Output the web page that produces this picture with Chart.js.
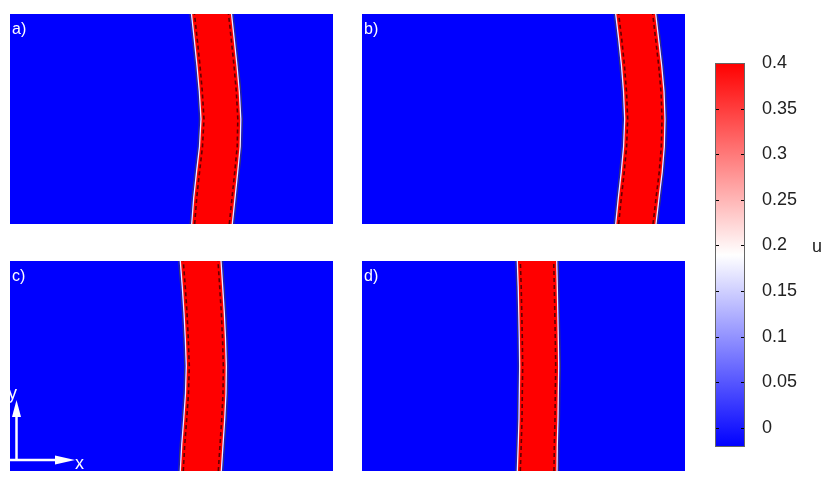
<!DOCTYPE html>
<html><head><meta charset="utf-8">
<script src="https://cdn.jsdelivr.net/npm/chart.js@4.4.1/dist/chart.umd.min.js"></script>
<style>
html,body{margin:0;padding:0;background:#fff;}
#wrap{position:relative;width:830px;height:489px;overflow:hidden;background:#fff;}
canvas{position:absolute;}
</style></head><body>
<div id="wrap">
<canvas id="pa" width="323" height="210" style="left:10px;top:14px"></canvas>
<canvas id="pb" width="323" height="210" style="left:362px;top:14px"></canvas>
<canvas id="pc" width="323" height="210" style="left:10px;top:261px"></canvas>
<canvas id="pd" width="323" height="210" style="left:362px;top:261px"></canvas>
<canvas id="cb" width="115" height="430" style="left:715px;top:40px"></canvas>
</div>
<script>
// ---- data ----
const panelLabels = ['a)', 'b)', 'c)', 'd)'];
const xRange = [0, 100];
const yRange = [0, 65];
const edgeY = [0, 8, 16, 24, 32.5, 41, 49, 57, 65];
const leftA  = [56.25, 56.87, 57.74, 58.67, 59.13, 58.61, 57.89, 57.06, 56.19];
const rightA = [68.82, 69.66, 70.49, 71.27, 71.46, 70.99, 70.28, 69.44, 68.58];
const leftB  = [78.54, 79.35, 80.25, 80.99, 81.33, 80.96, 80.34, 79.50, 78.54];
const rightB = [91.02, 91.95, 92.94, 93.59, 93.81, 93.50, 92.79, 91.86, 90.93];
const leftC  = [52.72, 53.16, 53.78, 54.33, 54.58, 54.27, 53.87, 53.34, 52.72];
const rightC = [65.42, 65.94, 66.47, 66.87, 66.97, 66.72, 66.35, 65.85, 65.33];
const leftD  = [48.08, 48.36, 48.61, 48.70, 48.82, 48.70, 48.54, 48.36, 48.08];
const rightD = [60.37, 60.46, 60.68, 60.77, 60.90, 60.77, 60.62, 60.46, 60.28];
const cbMin = -0.021, cbMax = 0.4;
const cbTickValues = [0, 0.05, 0.1, 0.15, 0.2, 0.25, 0.3, 0.35, 0.4];
const cbTickLabels = ['0', '0.05', '0.1', '0.15', '0.2', '0.25', '0.3', '0.35', '0.4'];
const cbTitle = 'u';
const axisArrowLabels = ['x', 'y'];

// ---- styles ----
const FONT = "'Liberation Sans', Arial, sans-serif";
Chart.defaults.font.family = FONT;
const BLUE = '#0000ff', RED = '#ff0000';

const panelPlugin = {
  id: 'panelDeco',
  beforeDraw(chart) {
    const a = chart.chartArea, c = chart.ctx;
    c.save(); c.fillStyle = BLUE; c.fillRect(a.left, a.top, a.right - a.left, a.bottom - a.top); c.restore();
  },
  afterDatasetsDraw(chart, args, opts) {
    const c = chart.ctx, a = chart.chartArea;
    c.save();
    c.beginPath(); c.rect(a.left, a.top, a.right - a.left, a.bottom - a.top); c.clip();
    chart.data.datasets.forEach((ds, i) => {
      if (!ds.edgeDir) return;
      const pts = chart.getDatasetMeta(i).data;
      const path = (dx) => { c.beginPath(); pts.forEach((p, k) => k ? c.lineTo(p.x + dx, p.y) : c.moveTo(p.x + dx, p.y)); c.stroke(); };
      c.setLineDash([]); c.strokeStyle = 'rgba(60,60,100,0.9)'; c.lineWidth = 1; path(ds.edgeDir * 1.6);
      c.strokeStyle = 'rgba(240,235,255,1)'; c.lineWidth = 1.3; path(0);
      c.setLineDash([4, 3]); c.strokeStyle = 'rgba(70,0,0,0.85)'; c.lineWidth = 1.6; path(-ds.edgeDir * 3);
    });
    c.restore();
    c.save();
    c.fillStyle = '#fff'; c.font = '16px ' + FONT; c.textBaseline = 'alphabetic';
    c.fillText(opts.label, a.left + 2, a.top + 20);
    if (opts.arrows) {
      const ox = a.left + 6.5, oy = a.bottom - 11;
      c.strokeStyle = '#fff'; c.fillStyle = '#fff'; c.lineWidth = 2.5;
      c.beginPath(); c.moveTo(a.left, oy); c.lineTo(a.left + 50, oy); c.stroke();
      c.beginPath(); c.moveTo(ox, oy + 1); c.lineTo(ox, a.bottom - 57); c.stroke();
      c.beginPath(); c.moveTo(a.left + 65, oy); c.lineTo(a.left + 45, oy - 4.5); c.lineTo(a.left + 45, oy + 4.5); c.closePath(); c.fill();
      c.beginPath(); c.moveTo(ox, a.bottom - 71); c.lineTo(ox - 4.5, a.bottom - 54); c.lineTo(ox + 4.5, a.bottom - 54); c.closePath(); c.fill();
      c.font = '18px ' + FONT;
      c.fillText(axisArrowLabels[0], a.left + 65, a.bottom - 2);
      c.fillText(axisArrowLabels[1], a.left - 2, a.bottom - 72);
    }
    c.restore();
  }
};

function makePanel(id, label, left, right, arrows) {
  const leftPts = left.map((x, i) => ({ x, y: edgeY[i] }));
  const rightPts = right.map((x, i) => ({ x, y: edgeY[i] }));
  const band = leftPts.concat(rightPts.slice().reverse());
  new Chart(document.getElementById(id), {
    type: 'line',
    data: {
      datasets: [
        { data: band, fill: 'shape', backgroundColor: RED, borderWidth: 0, borderColor: 'rgba(0,0,0,0)', pointRadius: 0, tension: 0 },
        { data: leftPts, fill: false, borderWidth: 0, borderColor: 'rgba(0,0,0,0)', pointRadius: 0, tension: 0, edgeDir: -1 },
        { data: rightPts, fill: false, borderWidth: 0, borderColor: 'rgba(0,0,0,0)', pointRadius: 0, tension: 0, edgeDir: 1 }
      ]
    },
    options: {
      responsive: false, maintainAspectRatio: false, animation: false,
      layout: { padding: 0 },
      plugins: { legend: { display: false }, tooltip: { enabled: false }, panelDeco: { label, arrows } },
      scales: {
        x: { type: 'linear', min: xRange[0], max: xRange[1], display: false },
        y: { type: 'linear', min: yRange[0], max: yRange[1], display: false }
      }
    },
    plugins: [panelPlugin]
  });
}

makePanel('pa', panelLabels[0], leftA, rightA, false);
makePanel('pb', panelLabels[1], leftB, rightB, false);
makePanel('pc', panelLabels[2], leftC, rightC, true);
makePanel('pd', panelLabels[3], leftD, rightD, false);

const cbPlugin = {
  id: 'cbDeco',
  afterDatasetsDraw(chart) {
    const c = chart.ctx, a = chart.chartArea, s = chart.scales.y;
    c.save();
    c.strokeStyle = '#000'; c.lineWidth = 1;
    cbTickValues.forEach(v => {
      const y = Math.round(s.getPixelForValue(v)) + 0.5;
      c.beginPath(); c.moveTo(a.left, y); c.lineTo(a.left + 4, y); c.moveTo(a.right - 4, y); c.lineTo(a.right, y); c.stroke();
    });
    c.strokeStyle = '#666';
    c.strokeRect(a.left + 0.5, a.top + 0.5, a.right - a.left - 1, a.bottom - a.top - 1);
    c.fillStyle = '#222'; c.font = '18px ' + FONT; c.textBaseline = 'alphabetic';
    c.fillText(cbTitle, a.right + 67, (a.top + a.bottom) / 2 - 3);
    c.restore();
  }
};

new Chart(document.getElementById('cb'), {
  type: 'bar',
  data: {
    labels: [cbTitle],
    datasets: [{
      data: [[cbMin, cbMax]],
      borderWidth: 0,
      barPercentage: 1, categoryPercentage: 1,
      backgroundColor: (ctx) => {
        const a = ctx.chart.chartArea;
        if (!a) return BLUE;
        const g = ctx.chart.ctx.createLinearGradient(0, a.bottom, 0, a.top);
        g.addColorStop(0, BLUE); g.addColorStop(0.5, '#ffffff'); g.addColorStop(1, RED);
        return g;
      }
    }]
  },
  options: {
    responsive: false, maintainAspectRatio: false, animation: false,
    layout: { padding: { top: 23, bottom: 23, left: 0, right: 0 } },
    plugins: { legend: { display: false }, tooltip: { enabled: false } },
    scales: {
      x: { display: false },
      y: {
        position: 'right', min: cbMin, max: cbMax,
        grid: { display: false, drawTicks: false }, border: { display: false },
        afterBuildTicks: (s) => { s.ticks = cbTickValues.map(v => ({ value: v })); },
        afterFit: (s) => { s.width = 85; s.paddingTop = 0; s.paddingBottom = 0; },
        ticks: { autoSkip: false, padding: 17, color: '#222', font: { size: 18, family: FONT },
          callback: (v, i) => cbTickLabels[i] }
      }
    }
  },
  plugins: [cbPlugin]
});
</script>
</body></html>
